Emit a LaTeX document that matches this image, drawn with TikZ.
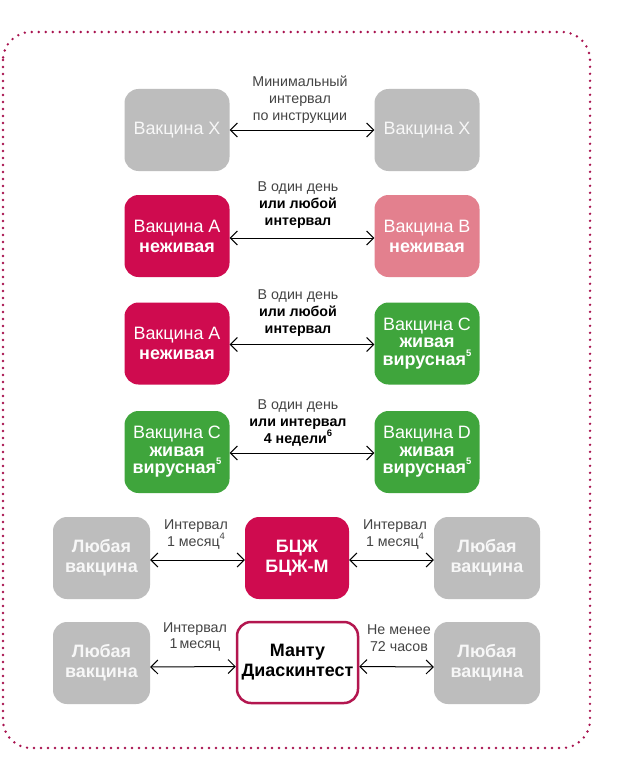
\documentclass[tikz,border=0pt]{standalone}
\usepackage{fontspec}
\setmainfont{Liberation Sans}
\usetikzlibrary{arrows.meta}
\definecolor{crim}{HTML}{CF0B4F}
\definecolor{pinkb}{HTML}{E3808E}
\definecolor{greenb}{HTML}{3FA53C}
\definecolor{grayb}{HTML}{BDBDBD}
\definecolor{dotc}{HTML}{A8124F}
\definecolor{lbl}{HTML}{444444}
\definecolor{manb}{HTML}{B3164F}
\newcommand\mysup[1]{\raisebox{0.5em}{\fontsize{9.5}{9.5}\selectfont #1}}
\begin{document}
\begin{tikzpicture}[x=1bp,y=-1bp,
  box/.style={rounded corners=14bp, minimum height=82bp, minimum width=105bp, inner sep=0pt, align=center, text=white, font=\fontsize{18}{20}\selectfont},
  tri/.style={font=\fontsize{18}{17.5}\selectfont},
  gbox/.style={box, fill=grayb, text=white!94!gray},
  cbox/.style={box, fill=crim},
  pbox/.style={box, fill=pinkb},
  grbox/.style={box, fill=greenb},
  mbox/.style={box, fill=white, draw=manb, line width=2.5bp, text=black, minimum width=121bp, minimum height=81bp},
  lab/.style={inner sep=0pt, align=center, text=lbl, font=\fontsize{14.3}{17}\selectfont},
  arr/.style={{Straight Barb[length=7bp,width=14bp]}-{Straight Barb[length=7bp,width=14bp]}, line width=1bp, black},
  dots/.style={dotc, line width=2.7bp, line cap=round, dash pattern=on 0bp off 7bp, rounded corners=28bp}
]
\fill[white] (0,0) rectangle (617,770);
\useasboundingbox (0,0) rectangle (617,770);
\draw[dots] (3,32) rectangle (590,748);

% Row 1
\node[gbox] (x1) at (177,130) {Вакцина X};
\node[gbox] (x2) at (427,130) {Вакцина X};
\node[lab] (l1) at (300,100) {Минимальный\\интервал\\по инструкции};
\draw[arr] (x1.east) -- (x2.west);

% Row 2
\node[cbox] (a1) at (177,236) {Вакцина А\\\textbf{неживая}};
\node[pbox] (b1) at (427,236) {Вакцина В\\\textbf{неживая}};
\node[lab] (l2) at (298,205) {В один день\\\textcolor{black}{\textbf{или любой}}\\\textcolor{black}{\textbf{интервал}}};
\draw[arr] ([yshift=-2bp]a1.east) -- ([yshift=-2bp]b1.west);

% Row 3
\node[cbox] (a2) at (177,343.5) {Вакцина А\\\textbf{неживая}};
\node[grbox,tri] (c1) at (427,343.5) {Вакцина С\\\textbf{живая}\\\textbf{вирусная\mysup{5}}};
\node[lab] (l3) at (298,313) {В один день\\\textcolor{black}{\textbf{или любой}}\\\textcolor{black}{\textbf{интервал}}};
\draw[arr] ([yshift=-1bp]a2.east) -- ([yshift=-1bp]c1.west);

% Row 4
\node[grbox,tri] (c2) at (177,452) {Вакцина С\\\textbf{живая}\\\textbf{вирусная\mysup{5}}};
\node[grbox,tri] (d1) at (427,452) {Вакцина D\\\textbf{живая}\\\textbf{вирусная\mysup{5}}};
\node[lab] (l4) at (298,423) {В один день\\\textcolor{black}{\textbf{или интервал}}\\\textcolor{black}{\textbf{4 недели\mysup{6}}}};
\draw[arr] ([yshift=-1bp]c2.east) -- ([yshift=-1bp]d1.west);

% Row 5
\node[gbox, minimum width=97bp] (v1) at (101.5,558) {\textbf{Любая}\\\textbf{вакцина}};
\node[cbox, minimum width=104bp] (bcg) at (297,558) {\textbf{БЦЖ}\\\textbf{БЦЖ-М}};
\node[gbox, minimum width=106bp] (v2) at (487,558) {\textbf{Любая}\\\textbf{вакцина}};
\node[lab] (l5a) at (196,534.5) {Интервал\\1 месяц\mysup{4}};
\node[lab] (l5b) at (395,534.5) {Интервал\\1 месяц\mysup{4}};
\draw[arr] ([yshift=-2bp]v1.east) -- ([yshift=-2bp]bcg.west);
\draw[arr] ([yshift=-2bp]bcg.east) -- ([yshift=-2bp]v2.west);

% Row 6
\node[gbox, minimum width=97bp] (v3) at (101.5,663) {\textbf{Любая}\\\textbf{вакцина}};
\node[mbox] (mt) at (297.5,662.5) {\textbf{Манту}\\\textbf{Диаскинтест}};
\node[gbox, minimum width=106bp] (v4) at (487,663) {\textbf{Любая}\\\textbf{вакцина}};
\node[lab] (l6a) at (195,637) {Интервал\\1\hspace{2bp}месяц};
\node[lab] (l6b) at (399,638.5) {Не менее\\72 часов};
\draw[arr] ([yshift=-4bp]v3.east) -- ([yshift=-4bp]mt.west);
\draw[arr] ([yshift=-4bp]mt.east) -- ([yshift=-4bp]v4.west);
\end{tikzpicture}
\end{document}
